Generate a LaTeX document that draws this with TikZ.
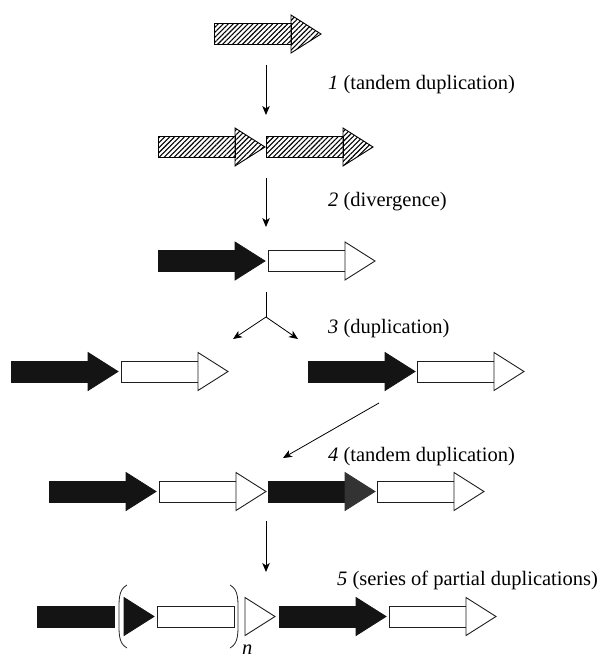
\documentclass[tikz,border=0pt]{standalone}
\usepackage{fontspec}
\setmainfont{Liberation Serif}
\usepackage{tikz}
\usetikzlibrary{arrows.meta,patterns.meta}
\tikzset{
 gene hatched/.style={draw=black,line width=.9pt,
                      pattern={Lines[angle=45,distance=3.5pt,line width=1.1pt]}},
 gene black/.style={draw=black!92,fill=black!92,line width=.8pt},
 gene grey/.style={draw=black!80,fill=black!80,line width=.8pt},
 gene white/.style={draw=black!88,fill=white,line width=.9pt},
 step arrow/.style={line width=.8pt,-{Stealth[length=9pt,width=7.5pt,inset=2.5pt]}},
 step label/.style={anchor=west,inner sep=0pt,font=\fontsize{20.5}{22}\selectfont},
 repeat bracket/.style={line width=.8pt,black!85}
}
% one gene = body box + head triangle, given by left end and axis height
\newcommand{\genebody}[3]{\draw[#3] (#1,#2-10.5) rectangle (#1+77,#2+10.5);}
\newcommand{\genehead}[3]{\draw[#3] (#1,#2-19) -- (#1+30,#2) -- (#1,#2+19) -- cycle;}
\newcommand{\gene}[4]{\genebody{#1}{#2}{#3}\genehead{#1+77}{#2}{#4}}

\begin{document}
\begin{tikzpicture}[x=1pt,y=-1pt]
 \useasboundingbox (0,0) rectangle (600,658);

 % the gene rows, from the ancestral gene down to the repeated array
 \gene{214}{34}{gene hatched}{gene hatched}
 \foreach \x in {158,266} \gene{\x}{147}{gene hatched}{gene hatched};
 \gene{158}{261}{gene black}{gene black}
 \gene{268}{261}{gene white}{gene white}
 \foreach \x/\s in {11/black,121/white,308/black,417/white}
   \gene{\x}{371.5}{gene \s}{gene \s};
 \foreach \x/\s in {49/black,159/white,377/white}
   \gene{\x}{491.5}{gene \s}{gene \s};
 \gene{268}{491.5}{gene black}{gene grey}
 \genebody{37}{616.5}{gene black}
 \genehead{124}{616.5}{gene black}
 \genebody{157}{616.5}{gene white}
 \genehead{245}{616.5}{gene white}
 \gene{279}{616.5}{gene black}{gene black}
 \gene{389}{616.5}{gene white}{gene white}

 % repeat brackets
 \draw[repeat bracket] (127,585) .. controls (118,590) and (119,600) .. (119,616.5)
       .. controls (119,633) and (118,643) .. (127,648);
 \draw[repeat bracket] (230,585) .. controls (239,590) and (238,600) .. (238,616.5)
       .. controls (238,633) and (239,643) .. (230,648);
 \node[step label] (rep) at (242,650) {\textit{n}};

 % steps
 \coordinate (s1a) at (266,65);   \coordinate (s1b) at (266,115);
 \coordinate (s2a) at (266,178);  \coordinate (s2b) at (266,227);
 \coordinate (s3a) at (266,292);  \coordinate (split) at (266,317);
 \coordinate (s3l) at (233,339);  \coordinate (s3r) at (298,339);
 \coordinate (s4a) at (379,403);  \coordinate (s4b) at (283,458);
 \coordinate (s5a) at (266,521);  \coordinate (s5b) at (266,572);

 \draw[step arrow] (s1a) -- (s1b);
 \draw[step arrow] (s2a) -- (s2b);
 \draw[line width=.8pt] (s3a) -- (split);
 \draw[step arrow] (split) -- (s3l);
 \draw[step arrow] (split) -- (s3r);
 \draw[step arrow] (s4a) -- (s4b);
 \draw[step arrow] (s5a) -- (s5b);

 \node[step label] (lab1) at (328,85) {\textit{1} (tandem duplication)};
 \node[step label] (lab2) at (328,202) {\textit{2} (divergence)};
 \node[step label] (lab3) at (328,329) {\textit{3} (duplication)};
 \node[step label] (lab4) at (328,457) {\textit{4} (tandem duplication)};
 \node[step label] (lab5) at (337,580) {\textit{5} (series of partial duplications)};
\end{tikzpicture}
\end{document}
